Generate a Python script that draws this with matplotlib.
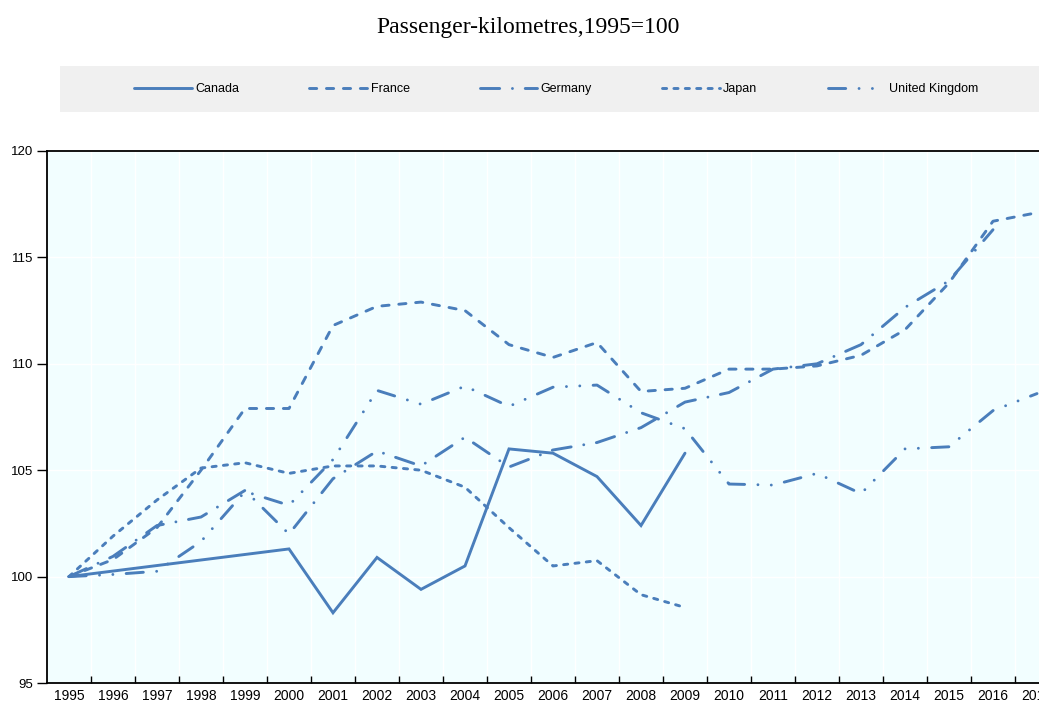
import matplotlib
matplotlib.use("Agg")
import matplotlib.pyplot as plt
from matplotlib.patches import Rectangle
import numpy as np

# Passenger-kilometres, index 1995=100
years = list(range(1995, 2018))

canada_years = [1995, 2000, 2001, 2002, 2003, 2004, 2005, 2006, 2007, 2008, 2009]
canada = [100, 101.3, 98.3, 100.9, 99.4, 100.5, 106.0, 105.8, 104.7, 102.4, 105.8]

france_years = years
france = [100, 100.8, 102.3, 105.0, 107.9, 107.9, 111.8, 112.7, 112.9, 112.5,
          110.9, 110.3, 111.0, 108.7, 108.85, 109.75, 109.75, 109.9, 110.4,
          111.6, 113.8, 116.7, 117.1]

germany_years = list(range(1995, 2017))
germany = [100, 100.95, 102.4, 102.8, 104.05, 102.0, 104.6, 105.9, 105.2, 106.55,
           105.15, 105.95, 106.3, 107.0, 108.2, 108.65, 109.75, 110.0, 110.9,
           112.65, 113.9, 116.3]

japan_years = list(range(1995, 2010))
japan = [100, 101.9, 103.6, 105.1, 105.35, 104.85, 105.2, 105.2, 105.0, 104.2,
         102.3, 100.5, 100.75, 99.15, 98.55]

uk_years = years
uk = [100, 100.1, 100.25, 101.65, 104.0, 103.35, 105.5, 108.75, 108.1, 108.95,
      108.0, 108.9, 109.0, 107.7, 106.95, 104.35, 104.3, 104.85, 103.9, 106.0,
      106.1, 107.8, 108.6]

y_ticks = [95, 100, 105, 110, 115, 120]

plt.rcParams['lines.scale_dashes'] = False
narrow = ['Liberation Sans Narrow', 'Liberation Sans', 'DejaVu Sans']

blue = '#4a7ebb'
lw = 2.1

fig = plt.figure(figsize=(10.39, 7.02), dpi=100)

# title
fig.text(528 / 1039, 1 - 27 / 702, 'Passenger-kilometres,1995=100',
         ha='center', va='center', fontsize=17, family='Liberation Serif')

# grey legend band
fig.patches.append(Rectangle((60 / 1039, 1 - 112 / 702), 1.0, 46 / 702,
                             transform=fig.transFigure, facecolor='#f0f0f0',
                             edgecolor='none', zorder=0))

ax = fig.add_axes([47 / 1039, 1 - 683 / 702, 1012 / 1039, 532 / 702])
ax.set_facecolor('#f2feff')

styles = [
    ('Canada', canada_years, canada, dict(linestyle='-')),
    ('France', france_years, france, dict(dashes=(5.2, 7.0))),
    ('Germany', germany_years, germany, dict(dashes=(13.8, 9.2, 0.01, 9.2))),
    ('Japan', japan_years, japan, dict(dashes=(3.0, 5.2))),
    ('United Kingdom', uk_years, uk, dict(dashes=(12.4, 9.6, 0.01, 9.6, 0.01, 9.6))),
]
for name, xs, ys, st in styles:
    ax.plot(xs, ys, color=blue, lw=lw, label=name, dash_capstyle='round',
            solid_capstyle='round', solid_joinstyle='miter', zorder=3, **st)

ax.set_xlim(1994.5, 2017.5)
ax.set_ylim(95, 120)

# labels at the years, tick marks between them
ax.set_xticks(years)
ax.set_xticklabels([str(y) for y in years], family=narrow, fontsize=10)
ax.set_xticks(np.arange(1995.5, 2017.5, 1), minor=True)
ax.tick_params(axis='x', which='major', length=0, pad=4)
ax.tick_params(axis='x', which='minor', direction='in', length=5, width=1, color='black')

ax.set_yticks(y_ticks)
ax.set_yticklabels([str(v) for v in y_ticks], family=narrow, fontsize=9.5)
ax.tick_params(axis='y', direction='out', length=7, width=1, pad=3)

ax.grid(axis='y', which='major', color='white', lw=1)
ax.grid(axis='x', which='minor', color='white', lw=1)
ax.set_axisbelow(True)

for sp in ax.spines.values():
    sp.set_color('black')
    sp.set_linewidth(1.3)

leg = fig.legend(loc='center', bbox_to_anchor=(556 / 1039, 1 - 89 / 702), ncol=5,
                 frameon=False, handlelength=4.6, handletextpad=0.3,
                 columnspacing=5.6, prop={'family': narrow, 'size': 9})

fig.savefig('out.png', dpi=100)
